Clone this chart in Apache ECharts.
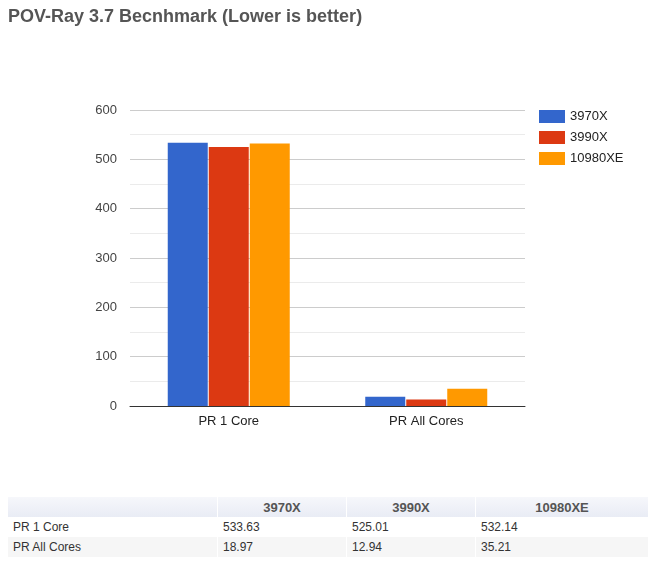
<!DOCTYPE html>
<html>
<head>
<meta charset="utf-8">
<script src="https://cdn.jsdelivr.net/npm/echarts@6/dist/echarts.min.js"></script>
<style>
  body { margin: 0; background: #fff; font-family: "Liberation Sans", Arial, sans-serif; }
  #chart { width: 651px; height: 495px; }
  #table { position: absolute; left: 7px; top: 497px; border-collapse: separate; border-spacing: 1px 0; font-size: 12px; }
  #table th { height: 20px; padding: 0; color: #555; font-weight: bold; font-size: 13px; text-align: center;
    background: linear-gradient(#f6f7fb, #e9ecf5); }
  #table td { height: 20px; padding: 0 0 0 5px; color: #333; }
  #table tr.alt td { background: #f6f6f6; }
</style>
</head>
<body>
<div id="chart"></div>
<table id="table"></table>
<script>
const categories = ['PR 1 Core', 'PR All Cores'];
const seriesNames = ['3970X', '3990X', '10980XE'];
const values3970X = [533.63, 18.97];
const values3990X = [525.01, 12.94];
const values10980XE = [532.14, 35.21];
const colors = ['#3366cc', '#dc3912', '#ff9900'];
const colWidths = [209, 128, 128, 172];

const allValues = [values3970X, values3990X, values10980XE];

const makeSeries = () => {
  return seriesNames.map((name, i) => ({
    name: name,
    type: 'bar',
    data: allValues[i],
    barWidth: 40,
    barGap: '2.5%',
    itemStyle: { color: colors[i] }
  }));
};

const getOptionChart = () => {
  return {
    animation: false,
    title: {
      text: 'POV-Ray 3.7 Becnhmark (Lower is better)',
      left: 3,
      top: 3,
      textStyle: { fontFamily: 'Liberation Sans', fontSize: 18, fontWeight: 'bold', color: '#555' }
    },
    legend: {
      orient: 'vertical',
      left: 534,
      top: 105,
      itemWidth: 26,
      itemHeight: 13,
      itemGap: 8,
      icon: 'rect',
      textStyle: { fontFamily: 'Liberation Sans', fontSize: 13, color: '#222' }
    },
    grid: { left: 130, top: 110, width: 395, height: 296 },
    xAxis: {
      type: 'category',
      data: categories,
      axisTick: { show: false },
      axisLine: { lineStyle: { color: '#333', width: 1 } },
      axisLabel: { fontFamily: 'Liberation Sans', fontSize: 13, color: '#222', margin: 9 }
    },
    yAxis: {
      type: 'value',
      min: 0,
      max: 600,
      interval: 100,
      axisLabel: { fontFamily: 'Liberation Sans', fontSize: 13, color: '#444', margin: 13 },
      splitLine: { lineStyle: { color: '#ccc' } },
      minorTick: { show: false, splitNumber: 2 },
      minorSplitLine: { show: true, lineStyle: { color: '#ebebeb' } }
    },
    series: makeSeries()
  };
};

const buildTable = () => {
  const table = document.getElementById('table');
  let html = '<tr>';
  html += '<th style="width:' + colWidths[0] + 'px"></th>';
  seriesNames.forEach((n, i) => {
    html += '<th style="width:' + colWidths[i + 1] + 'px">' + n + '</th>';
  });
  html += '</tr>';
  categories.forEach((c, r) => {
    html += '<tr' + (r % 2 ? ' class="alt"' : '') + '><td>' + c + '</td>';
    allValues.forEach(v => { html += '<td>' + v[r].toFixed(2) + '</td>'; });
    html += '</tr>';
  });
  table.innerHTML = html;
};

const initCharts = () => {
  const chart = echarts.init(document.getElementById('chart'));
  chart.setOption(getOptionChart());
  buildTable();
};

window.addEventListener('load', () => {
  initCharts();
});
</script>
</body>
</html>
